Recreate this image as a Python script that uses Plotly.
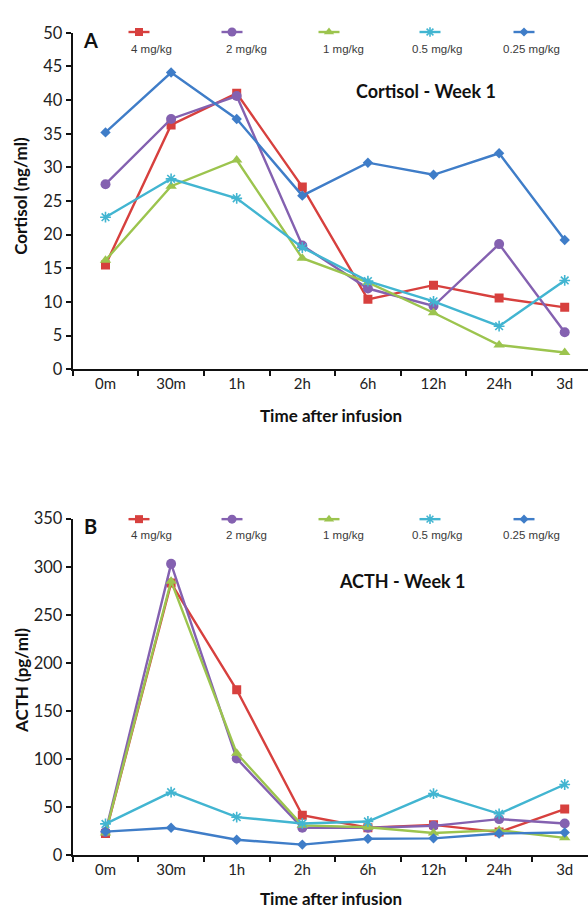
import plotly.graph_objects as go

times = ["0m", "30m", "1h", "2h", "6h", "12h", "24h", "3d"]
doses = ["4 mg/kg", "2 mg/kg", "1 mg/kg", "0.5 mg/kg", "0.25 mg/kg"]

cortisol_4 = [15.5, 36.3, 41.0, 27.1, 10.4, 12.5, 10.6, 9.2]
cortisol_2 = [27.5, 37.2, 40.6, 18.4, 12.0, 9.4, 18.6, 5.5]
cortisol_1 = [16.2, 27.2, 31.1, 16.5, 12.9, 8.4, 3.6, 2.5]
cortisol_05 = [22.6, 28.3, 25.4, 18.1, 13.1, 10.1, 6.4, 13.2]
cortisol_025 = [35.2, 44.1, 37.2, 25.8, 30.7, 28.9, 32.1, 19.2]

acth_4 = [22.5, 283, 172, 41.5, 28.5, 31.5, 24, 48]
acth_2 = [24, 303, 100.5, 28.5, 28.5, 30.5, 37.5, 33]
acth_1 = [23, 285, 106, 31, 29, 23, 26, 18]
acth_05 = [32.5, 65.5, 39.5, 33, 35, 64, 43, 73.5]
acth_025 = [24.5, 28.5, 16, 11, 17, 17.5, 22.5, 23.5]

colors = ["#D7403E", "#8461B0", "#9CC44E", "#42B5D1", "#3F7DC8"]
symbols = ["square", "circle", "triangle-up", "asterisk-open", "diamond"]
sizes = [9, 10, 10, 9, 8]

cortisol = [cortisol_4, cortisol_2, cortisol_1, cortisol_05, cortisol_025]
acth = [acth_4, acth_2, acth_1, acth_05, acth_025]

W, H = 588, 917
FONT = "Lato"

fig = go.Figure()

def marker(i):
    if symbols[i] == "asterisk-open":
        return dict(symbol=symbols[i], size=sizes[i], color=colors[i],
                    line=dict(color=colors[i], width=1.6))
    return dict(symbol=symbols[i], size=sizes[i], color=colors[i],
                line=dict(width=0))

for i in range(5):
    fig.add_trace(go.Scatter(x=times, y=cortisol[i], mode="lines+markers",
                             line=dict(color=colors[i], width=2.4),
                             marker=marker(i), name=doses[i], showlegend=False,
                             xaxis="x", yaxis="y"))
for i in range(5):
    fig.add_trace(go.Scatter(x=times, y=acth[i], mode="lines+markers",
                             line=dict(color=colors[i], width=2.4),
                             marker=marker(i), name=doses[i], showlegend=False,
                             xaxis="x2", yaxis="y2"))

# custom legend keys (symbol above label), pixel-space overlay axis
leg_key_x = [139, 232, 329, 430, 524]
leg_lbl_x = [151, 246, 343, 437, 531]
leg_key_y = [22.5, 520.5]
leg_lbl_y = [40, 537]
half = 10.5
for ky in leg_key_y:
    for i in range(5):
        fig.add_trace(go.Scatter(x=[leg_key_x[i] - half, leg_key_x[i] + half], y=[ky, ky],
                                 mode="lines", line=dict(color=colors[i], width=2.4),
                                 showlegend=False, hoverinfo="skip", xaxis="x3", yaxis="y3"))
        m = dict(marker(i))
        m["size"] = max(sizes[i] - 1, 7)
        fig.add_trace(go.Scatter(x=[leg_key_x[i]], y=[ky], mode="markers", marker=m,
                                 showlegend=False, hoverinfo="skip", xaxis="x3", yaxis="y3"))

annotations = []
for ly in leg_lbl_y:
    for i in range(5):
        annotations.append(dict(x=leg_lbl_x[i], y=ly, xref="x3", yref="y3", text=doses[i],
                                showarrow=False, xanchor="center", yanchor="middle",
                                font=dict(family="Liberation Sans", size=11.5, color="#3a3a3a")))

def ann(x, y, text, size, angle=0):
    return dict(x=x, y=y, xref="x3", yref="y3", text=text, showarrow=False,
                xanchor="center", yanchor="middle", textangle=angle,
                font=dict(family=FONT, size=size, color="#111"))

annotations += [
    ann(90, 31, "<b>A</b>", 20),
    ann(90, 528, "<b>B</b>", 20),
    ann(426, 83, "<b>Cortisol - Week 1</b>", 18),
    ann(402, 584, "<b>ACTH - Week 1</b>", 18),
    ann(21, 190, "<b>Cortisol (ng/ml)</b>", 17, -90),
    ann(21, 686, "<b>ACTH (pg/ml)</b>", 17, -90),
    ann(331, 415, "<b>Time after infusion</b>", 17),
    ann(331, 908, "<b>Time after infusion</b>", 17),
]

x0 = 72.7 / W
xrange_ = [-0.5, 7.355]
A_dom = [1 - 367.3 / H, 1 - 23.3 / H]
B_dom = [1 - 864 / H, 1 - 520 / H]

xaxis_common = dict(type="category", range=xrange_, domain=[x0, 1], tickson="boundaries",
                    showline=True, linecolor="#111", linewidth=2, ticks="outside",
                    ticklen=5, tickwidth=1.6, tickcolor="#111", showgrid=False, zeroline=False,
                    tickfont=dict(family=FONT, size=15, color="#222"))
yaxis_common = dict(showline=True, linecolor="#111", linewidth=2, ticks="outside",
                    ticklen=5, tickwidth=1.6, tickcolor="#111", showgrid=False, zeroline=False,
                    tickfont=dict(family=FONT, size=16.5, color="#222"))

fig.update_layout(
    width=W, height=H,
    margin=dict(l=0, r=0, t=0, b=0),
    paper_bgcolor="white", plot_bgcolor="rgba(0,0,0,0)",
    showlegend=False,
    xaxis=dict(xaxis_common, anchor="y"),
    yaxis=dict(yaxis_common, domain=A_dom, range=[0, 50], dtick=5, anchor="x"),
    xaxis2=dict(xaxis_common, anchor="y2"),
    yaxis2=dict(yaxis_common, domain=B_dom, range=[0, 350], dtick=50, anchor="x2"),
    xaxis3=dict(domain=[0, 1], range=[0, W], visible=False, anchor="y3"),
    yaxis3=dict(domain=[0, 1], range=[H, 0], visible=False, anchor="x3"),
    annotations=annotations,
)

fig.write_html("out.html", config={"displayModeBar": False},
               post_script="document.body.style.margin='0';document.body.style.overflow='hidden';")
